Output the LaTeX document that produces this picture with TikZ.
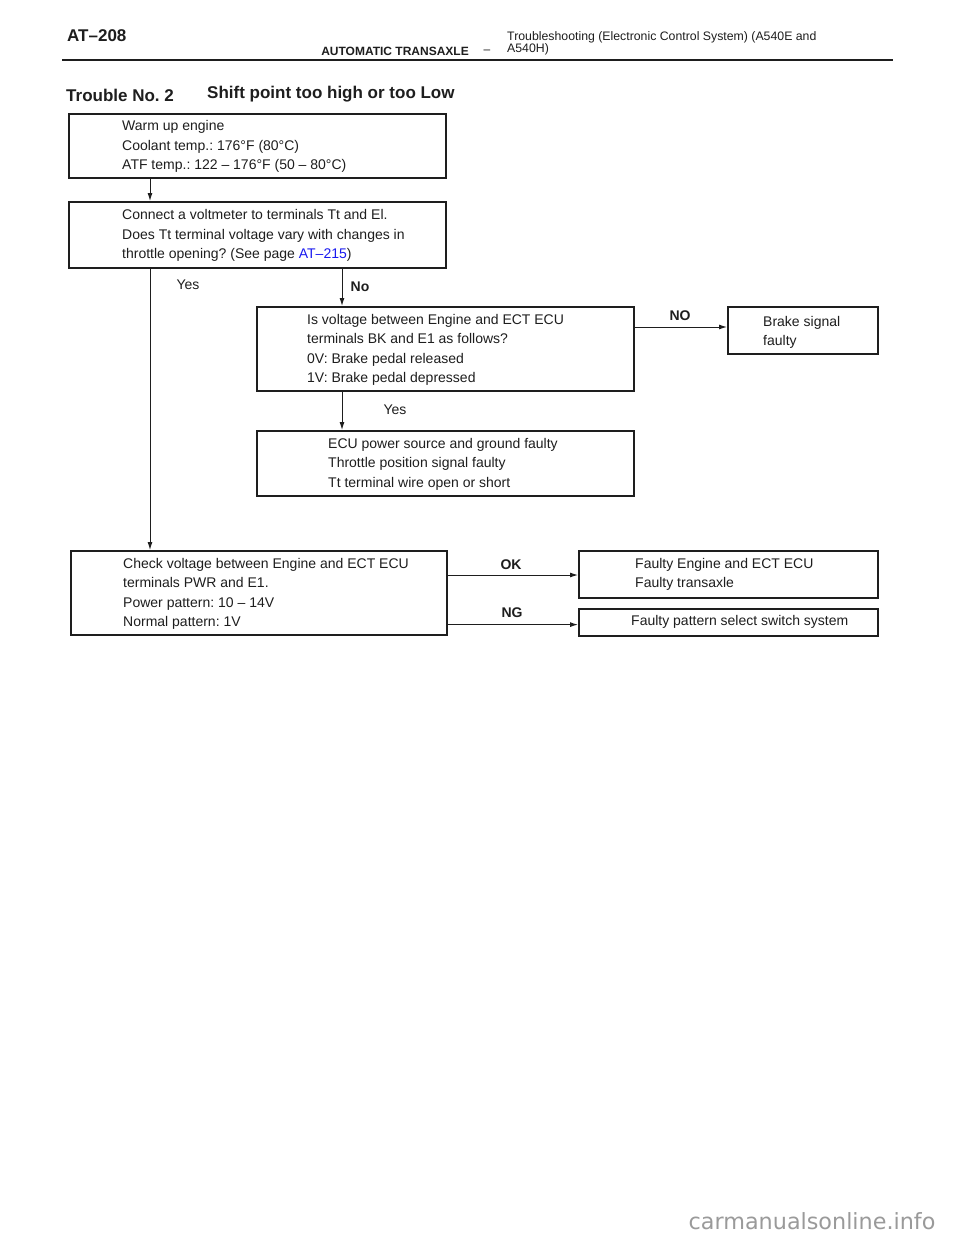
\documentclass[tikz,border=0pt]{standalone}
\usepackage{fontspec}
\setmainfont{Liberation Sans}
\newfontfamily\wmfont{DejaVu Sans}
\usetikzlibrary{arrows.meta,calc}
\definecolor{ink}{HTML}{1E1E1E}
\definecolor{lnk}{HTML}{1A1AF0}
\definecolor{wm}{HTML}{9A9A9A}
\newcommand{\mybox}[5]{\node[box, minimum width={#4pt-#2pt}, minimum height={#5pt-#3pt}] (#1) at (#2,#3) {};}
\frenchspacing
\begin{document}
\begin{tikzpicture}[x=1pt,y=-1pt,
  box/.style={draw=ink, line width=1.6pt, inner sep=0pt, anchor=north west},
  txt/.style={anchor=west, align=left, inner sep=0pt, text=ink, font=\fontsize{14}{19.5}\selectfont},
  lab/.style={font=\bfseries\fontsize{14}{16}\selectfont, text=ink, inner sep=0pt},
  yes/.style={font=\fontsize{14}{16}\selectfont, text=ink, inner sep=0pt},
  arr/.style={draw=ink, line width=1pt, -{Latex[length=8pt,width=5pt]}}]
\useasboundingbox (0,0) rectangle (960,1242);
\fill[white] (0,0) rectangle (960,1242);
% header
\node[anchor=west, inner sep=0pt, text=ink, font=\bfseries\fontsize{17}{20}\selectfont] (hd) at (67,36) {AT–208};
\node[anchor=east, inner sep=0pt, text=ink, font=\bfseries\fontsize{12}{14}\selectfont] (sec) at (469,51) {AUTOMATIC TRANSAXLE};
\node[inner sep=0pt, text=ink, font=\fontsize{12}{14}\selectfont] (dash) at (487,52) {–};
\node[anchor=west, align=left, inner sep=0pt, text=ink, font=\fontsize{12.3}{12}\selectfont] (sub) at (507,43) {Troubleshooting (Electronic Control System) (A540E and\\A540H)};
\draw[ink, line width=2pt] (62,60) -- (893,60);
\node[anchor=west, inner sep=0pt, text=ink, font=\bfseries\fontsize{17}{20}\selectfont] (tn) at (66,95) {Trouble No. 2};
\node[anchor=west, inner sep=0pt, text=ink, font=\bfseries\fontsize{17}{20}\selectfont] (ti) at (207,94) {Shift point too high or too Low};
% boxes
\mybox{b1}{68}{113}{445}{177}
\mybox{b2}{68}{201}{445}{267}
\mybox{b3}{256}{306}{633}{390}
\mybox{b4}{727}{306}{877}{353}
\mybox{b6}{256}{430}{633}{495}
\mybox{b5}{70}{550}{446}{634}
\mybox{b7}{578}{550}{877}{597}
\mybox{b8}{578}{608}{877}{635}
% texts
\node[txt] (t1) at ($(b1.west)+(54,1)$) {Warm up engine\\Coolant temp.: 176°F (80°C)\\ATF temp.: 122 – 176°F (50 – 80°C)};
\node[txt] (t2) at ($(b2.west)+(54,1)$) {Connect a voltmeter to terminals Tt and El.\\Does Tt terminal voltage vary with changes in\\throttle opening? (See page \textcolor{lnk}{AT–215})};
\node[txt] (t3) at ($(b3.west)+(51,1)$) {Is voltage between Engine and ECT ECU\\terminals BK and E1 as follows?\\0V: Brake pedal released\\1V: Brake pedal depressed};
\node[txt] (t4) at ($(b4.west)+(36,2)$) {Brake signal\\faulty};
\node[txt] (t6) at ($(b6.west)+(72,1)$) {ECU power source and ground faulty\\Throttle position signal faulty\\Tt terminal wire open or short};
\node[txt] (t5) at ($(b5.west)+(53,1)$) {Check voltage between Engine and ECT ECU\\terminals PWR and E1.\\Power pattern: 10 – 14V\\Normal pattern: 1V};
\node[txt] (t7) at ($(b7.west)+(57,0)$) {Faulty Engine and ECT ECU\\Faulty transaxle};
\node[txt] (t8) at ($(b8.west)+(53,0)$) {Faulty pattern select switch system};
% connectors
\draw[arr] ([xshift=82pt]b1.south west) -- ([xshift=82pt]b1.south west |- b2.north);
\draw[arr] ([xshift=82pt]b2.south west) -- ([xshift=82pt]b2.south west |- b5.north);
\draw[arr] ([xshift=86pt]b3.north west |- b2.south) -- ([xshift=86pt]b3.north west);
\draw[arr] ([xshift=86pt]b3.south west) -- ([xshift=86pt]b3.south west |- b6.north);
\draw[arr] ([yshift=-21pt]b3.north east) -- ([yshift=-21pt]b3.north east -| b4.west);
\draw[arr] ([yshift=-25pt]b5.north east) -- ([yshift=-25pt]b5.north east -| b7.west);
\draw[arr] ([yshift=11pt]b5.south east) -- ([yshift=11pt]b5.south east -| b8.west);
% labels
\node[yes] (l1) at (188,285) {Yes};
\node[lab] (l2) at (360,287) {No};
\node[lab] (l3) at (680,316) {NO};
\node[yes] (l4) at (395,410) {Yes};
\node[lab] (l5) at (511,565) {OK};
\node[lab] (l6) at (512,613) {NG};
% watermark
\node[inner sep=0pt, text=wm, font=\wmfont\fontsize{22.3}{26}\selectfont] (wmk) at (812,1221) {carmanualsonline.info};
\end{tikzpicture}
\end{document}
